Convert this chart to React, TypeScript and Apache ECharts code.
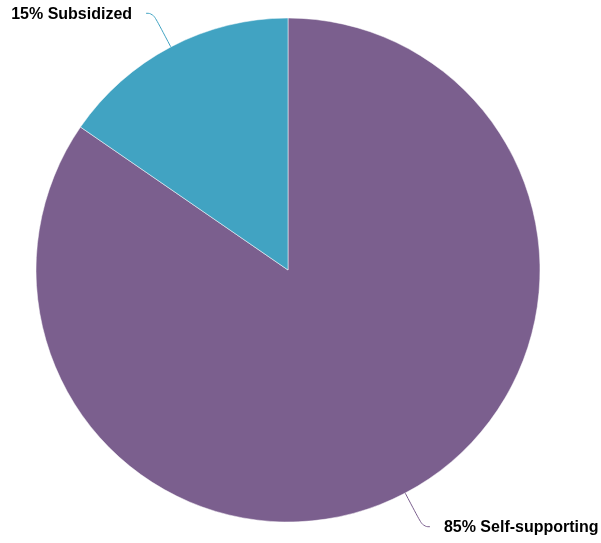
import React, { useEffect, useRef } from "react";
import * as echarts from "echarts";

const categories = ["Self-supporting", "Subsidized"];
const values = [84.6, 15.4];
const colors = ["#7b5f8e", "#41a3c2"];

export default function App() {
  const ref = useRef<HTMLDivElement>(null);
  useEffect(() => {
    const chart = echarts.init(ref.current!, null, { renderer: "svg" });
    chart.setOption({
      animation: false,
      series: [
        {
          type: "pie",
          center: [288, 270],
          radius: 252,
          startAngle: 90,
          clockwise: true,
          data: categories.map((name, i) => ({
            name,
            value: values[i],
            itemStyle: { color: colors[i] },
          })),
          itemStyle: { borderColor: "#ffffff", borderWidth: 0.5 },
          label: {
            show: true,
            formatter: (p: any) => `${Math.round(p.value)}% ${p.name}`,
            color: "#000",
            fontFamily: "Liberation Sans, Arial, sans-serif",
            fontWeight: "bold",
            fontSize: 16,
            overflow: "none",
            padding: [7, 0, 0, 0],
            distanceToLabelLine: 14,
          },
          labelLine: {
            show: true,
            length: 38,
            length2: 7,
            smooth: 0.5,
            lineStyle: { width: 1 },
          },
        },
      ],
    });
    return () => chart.dispose();
  }, []);
  return (
    <div
      ref={ref}
      style={{ position: "fixed", left: 0, top: 0, width: 601, height: 543 }}
    />
  );
}
